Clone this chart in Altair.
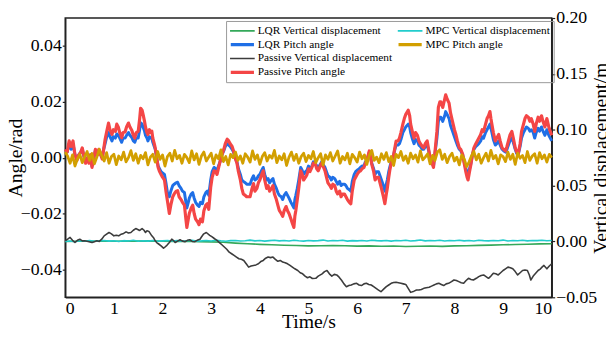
import altair as alt
import numpy as np
import pandas as pd

FONT = "Liberation Serif"
ZW = "\u200b"  # zero-width mark used to keep the two legend domains distinct

# legend order (row by row, two columns); the two blank entries keep the
# second column short, as in the original legend
SERIES = ["LQR Vertical displacement", "MPC Vertical displacement",
          "LQR Pitch angle", "MPC Pitch angle",
          "Passive Vertical displacement", " ",
          "Passive Pitch angle", "  "]
COLORS = ["#34a85a", "#22cccc", "#1f6fe6", "#d29f00", "#3c3c3c", "transparent",
          "#f44646", "transparent"]
THICK = ["LQR Pitch angle", "MPC Pitch angle", "Passive Pitch angle"]

# ---------------- pitch angle data (rad), left axis ----------------
t_pitch = [
    0.00, 0.04, 0.08, 0.12, 0.16, 0.20, 0.24, 0.28, 0.32, 0.35,
    0.39, 0.42, 0.46, 0.49, 0.52, 0.55, 0.59, 0.62, 0.66, 0.69,
    0.73, 0.76, 0.79, 0.82, 0.86, 0.89, 0.92, 0.96, 0.99, 1.03,
    1.06, 1.09, 1.12, 1.16, 1.19, 1.23, 1.26, 1.30, 1.33, 1.37,
    1.40, 1.43, 1.46, 1.50, 1.53, 1.55, 1.58, 1.60, 1.63, 1.65,
    1.68, 1.70, 1.73, 1.76, 1.78, 1.80, 1.83, 1.85, 1.88, 1.91,
    1.94, 1.97, 2.00, 2.04, 2.07, 2.11, 2.14, 2.17, 2.21, 2.24,
    2.28, 2.31, 2.34, 2.38, 2.41, 2.45, 2.48, 2.50, 2.53, 2.55,
    2.59, 2.62, 2.65, 2.68, 2.72, 2.75, 2.78, 2.82, 2.85, 2.89,
    2.92, 2.95, 2.99, 3.02, 3.06, 3.09, 3.12, 3.16, 3.19, 3.22,
    3.26, 3.29, 3.33, 3.36, 3.39, 3.43, 3.46, 3.49, 3.53, 3.56,
    3.60, 3.63, 3.66, 3.70, 3.73, 3.77, 3.80, 3.84, 3.87, 3.90,
    3.94, 3.97, 4.00, 4.04, 4.07, 4.10, 4.14, 4.17, 4.20, 4.24,
    4.27, 4.30, 4.34, 4.37, 4.40, 4.44, 4.47, 4.50, 4.54, 4.57,
    4.60, 4.64, 4.67, 4.70, 4.72, 4.74, 4.77, 4.80, 4.84, 4.87,
    4.90, 4.94, 4.97, 5.00, 5.03, 5.07, 5.10, 5.14, 5.17, 5.20,
    5.24, 5.27, 5.30, 5.34, 5.37, 5.40, 5.44, 5.47, 5.50, 5.54,
    5.57, 5.60, 5.64, 5.67, 5.70, 5.74, 5.77, 5.80, 5.84, 5.87,
    5.90, 5.94, 5.97, 6.00, 6.04, 6.07, 6.10, 6.14, 6.17, 6.20,
    6.25, 6.28, 6.30, 6.34, 6.37, 6.40, 6.44, 6.47, 6.50, 6.54,
    6.57, 6.60, 6.62, 6.65, 6.67, 6.70, 6.74, 6.77, 6.80, 6.84,
    6.87, 6.90, 6.94, 6.97, 7.00, 7.05, 7.08, 7.10, 7.14, 7.17,
    7.20, 7.24, 7.27, 7.30, 7.34, 7.37, 7.40, 7.44, 7.47, 7.50,
    7.54, 7.57, 7.60, 7.64, 7.67, 7.70, 7.72, 7.76, 7.80, 7.82,
    7.85, 7.89, 7.92, 7.96, 8.00, 8.03, 8.06, 8.10, 8.13, 8.17,
    8.20, 8.23, 8.26, 8.28, 8.31, 8.34, 8.37, 8.40, 8.44, 8.47,
    8.50, 8.54, 8.57, 8.60, 8.64, 8.67, 8.70, 8.73, 8.75, 8.77,
    8.80, 8.84, 8.87, 8.91, 8.94, 8.98, 9.01, 9.05, 9.08, 9.11,
    9.14, 9.18, 9.21, 9.25, 9.28, 9.31, 9.35, 9.38, 9.42, 9.45,
    9.48, 9.52, 9.55, 9.58, 9.62, 9.65, 9.68, 9.72, 9.75, 9.79,
    9.82, 9.86, 9.90, 9.94, 9.97, 10.00,
]

passive_pitch = [
    0.003, 0.002, 0.006, 0.004, 0.006, 0.001, -0.001, 0.001, 0.002, 0.0035,
    0.000, -0.002, 0.000, -0.002, 0.001, -0.0035, 0.000, 0.003, 0.001, 0.003,
    0.001, -0.0005, 0.003, 0.0066, 0.010, 0.0124, 0.010, 0.0083, 0.010, 0.0094,
    0.012, 0.011, 0.009, 0.0071, 0.009, 0.0092, 0.011, 0.0124, 0.011, 0.0097,
    0.008, 0.007, 0.009, 0.0094, 0.014, 0.0177, 0.017, 0.0155, 0.013, 0.011,
    0.009, 0.0083, 0.010, 0.009, 0.0095, 0.007, 0.005, 0.0035, 0.000, -0.0035,
    -0.005, -0.006, -0.007, -0.008, -0.012, -0.0165, -0.020, -0.017, -0.014, -0.013,
    -0.012, -0.0118, -0.014, -0.015, -0.016, -0.017, -0.022, -0.025, -0.022, -0.020,
    -0.018, -0.017, -0.020, -0.022, -0.023, -0.024, -0.022, -0.023, -0.019, -0.017,
    -0.0165, -0.0185, -0.0106, -0.007, -0.0047, -0.005, -0.006, -0.003, -0.001, 0.001,
    0.003, 0.005, 0.0066, 0.006, 0.005, 0.004, 0.0024, 0.000, -0.002, -0.005,
    -0.008, -0.011, -0.013, -0.0135, -0.014, -0.014, -0.014, -0.011, -0.0093, -0.012,
    -0.011, -0.009, -0.008, -0.006, -0.0047, -0.008, -0.011, -0.010, -0.012, -0.011,
    -0.010, -0.013, -0.015, -0.017, -0.0189, -0.020, -0.021, -0.019, -0.0175, -0.019,
    -0.020, -0.022, -0.0236, -0.025, -0.021, -0.0189, -0.015, -0.011, -0.0047, -0.006,
    -0.008, -0.007, -0.006, -0.004, -0.005, -0.0035, -0.002, -0.0023, -0.004, -0.0047,
    -0.003, -0.002, -0.003, -0.0047, -0.007, -0.009, -0.010, -0.011, -0.0095, -0.010,
    -0.012, -0.013, -0.012, -0.014, -0.013, -0.013, -0.014, -0.015, -0.016, -0.0165,
    -0.012, -0.008, -0.007, -0.006, -0.005, -0.0047, -0.004, -0.0035, -0.002, -0.001,
    0.0024, 0.000, -0.0023, -0.005, -0.008, -0.007, -0.007, -0.009, -0.011, -0.014,
    -0.0165, -0.013, -0.011, -0.007, -0.0047, -0.002, 0.000, 0.003, 0.0059, 0.006,
    0.007, 0.009, 0.012, 0.014, 0.0155, 0.017, 0.015, 0.012, 0.009, 0.007,
    0.009, 0.008, 0.006, 0.005, 0.004, 0.0035, 0.005, 0.006, 0.003, 0.000,
    -0.002, -0.0035, 0.002, 0.0094, 0.018, 0.020, 0.020, 0.018, 0.021, 0.0225,
    0.021, 0.0195, 0.016, 0.013, 0.010, 0.0083, 0.006, 0.0035, 0.003, 0.0012,
    -0.002, -0.0047, -0.007, -0.008, -0.005, -0.0023, 0.001, 0.0035, 0.005, 0.006,
    0.007, 0.0083, 0.010, 0.0094, 0.012, 0.014, 0.015, 0.0165, 0.014, 0.012,
    0.009, 0.006, 0.007, 0.0083, 0.006, 0.0035, 0.003, 0.0024, 0.004, 0.006,
    0.008, 0.0094, 0.007, 0.0035, 0.002, 0.0012, 0.005, 0.0094, 0.012, 0.014,
    0.015, 0.0145, 0.013, 0.014, 0.012, 0.0094, 0.012, 0.0145, 0.013, 0.015,
    0.013, 0.011, 0.014, 0.011, 0.0094, 0.008,
]

lqr_pitch = [
    0.002, 0.002, 0.005, 0.003, 0.005, 0.001, 0.000, 0.001, 0.002, 0.003,
    0.000, -0.001, 0.000, -0.0015, 0.001, -0.003, 0.000, 0.0025, 0.001, 0.0025,
    0.001, 0.000, 0.003, 0.005, 0.008, 0.009, 0.0075, 0.006, 0.0075, 0.007,
    0.0085, 0.008, 0.007, 0.0055, 0.007, 0.007, 0.008, 0.009, 0.008, 0.0072,
    0.006, 0.0055, 0.007, 0.007, 0.010, 0.0125, 0.012, 0.011, 0.0095, 0.008,
    0.007, 0.006, 0.0075, 0.007, 0.007, 0.0055, 0.004, 0.003, 0.000, -0.003,
    -0.004, -0.005, -0.0055, -0.006, -0.009, -0.0135, -0.014, -0.012, -0.010, -0.0095,
    -0.009, -0.0088, -0.010, -0.011, -0.012, -0.0125, -0.016, -0.018, -0.016, -0.0145,
    -0.013, -0.0125, -0.0145, -0.016, -0.017, -0.0175, -0.016, -0.0165, -0.014, -0.0125,
    -0.012, -0.0135, -0.008, -0.005, -0.0035, -0.004, -0.0045, -0.0025, -0.001, 0.001,
    0.0025, 0.004, 0.005, 0.0045, 0.004, 0.003, 0.002, 0.000, -0.0015, -0.004,
    -0.006, -0.008, -0.0085, -0.009, -0.0095, -0.0095, -0.0095, -0.0075, -0.0065, -0.008,
    -0.0075, -0.0065, -0.006, -0.0045, -0.0035, -0.006, -0.008, -0.0075, -0.009, -0.008,
    -0.0075, -0.0095, -0.011, -0.0125, -0.0135, -0.014, -0.015, -0.0135, -0.0125, -0.0135,
    -0.0145, -0.016, -0.017, -0.018, -0.015, -0.0135, -0.011, -0.008, -0.0035, -0.0045,
    -0.006, -0.005, -0.0045, -0.003, -0.004, -0.003, -0.0015, -0.002, -0.003, -0.0035,
    -0.0025, -0.0015, -0.0025, -0.0035, -0.005, -0.0065, -0.007, -0.008, -0.007, -0.0075,
    -0.0085, -0.0095, -0.0085, -0.010, -0.0095, -0.0095, -0.010, -0.011, -0.0115, -0.012,
    -0.0085, -0.006, -0.005, -0.0045, -0.004, -0.0035, -0.003, -0.003, -0.0015, -0.001,
    0.002, 0.000, -0.002, -0.004, -0.006, -0.005, -0.005, -0.0065, -0.008, -0.010,
    -0.012, -0.0095, -0.008, -0.005, -0.0035, -0.0015, 0.000, 0.0025, 0.0045, 0.0045,
    0.005, 0.0065, 0.009, 0.010, 0.011, 0.012, 0.011, 0.009, 0.0065, 0.005,
    0.0065, 0.006, 0.0045, 0.004, 0.003, 0.003, 0.004, 0.0045, 0.0025, 0.000,
    -0.0015, -0.003, 0.0015, 0.007, 0.013, 0.0145, 0.0145, 0.013, 0.015, 0.0165,
    0.0155, 0.014, 0.0115, 0.0095, 0.0075, 0.006, 0.0045, 0.003, 0.0025, 0.001,
    -0.0015, -0.0035, -0.0055, -0.006, -0.004, -0.002, 0.001, 0.003, 0.004, 0.0045,
    0.005, 0.006, 0.0075, 0.007, 0.009, 0.010, 0.011, 0.012, 0.0105, 0.009,
    0.0065, 0.0045, 0.005, 0.006, 0.0045, 0.003, 0.0025, 0.002, 0.003, 0.0045,
    0.006, 0.007, 0.0055, 0.003, 0.0015, 0.001, 0.004, 0.007, 0.009, 0.010,
    0.011, 0.0105, 0.0095, 0.010, 0.009, 0.007, 0.009, 0.0105, 0.0095, 0.011,
    0.0095, 0.008, 0.010, 0.008, 0.007, 0.006,
]

# MPC pitch angle, sampled every 0.05 s
mpc_pitch = [
    0.0020, 0.0005, -0.0020, 0.0010, -0.0030, -0.0005, 0.0012, -0.0018, 0.0003, 0.0022,
    -0.0010, 0.0015, -0.0022, 0.0002, 0.0030, 0.0008, -0.0012, 0.0018, -0.0020, 0.0004,
    0.0012, -0.0025, 0.0006, -0.0008, 0.0020, -0.0015, 0.0000, 0.0025, -0.0010, 0.0014,
    -0.0020, 0.0008, -0.0004, 0.0018, -0.0026, 0.0002, 0.0012, -0.0016, 0.0022, -0.0006,
    0.0010, -0.0030, 0.0004, 0.0016, -0.0012, 0.0026, -0.0004, 0.0008, -0.0020, 0.0012,
    0.0000, -0.0018, 0.0024, -0.0008, 0.0014, -0.0024, 0.0006, 0.0020, -0.0012, 0.0002,
    0.0016, -0.0022, 0.0010, -0.0004, 0.0028, -0.0014, 0.0004, -0.0026, 0.0012, 0.0000,
    0.0020, -0.0010, 0.0006, -0.0020, 0.0014, 0.0002, -0.0016, 0.0024, -0.0006, 0.0010,
    -0.0024, 0.0004, 0.0018, -0.0012, 0.0008, -0.0002, 0.0026, -0.0018, 0.0006, -0.0008,
    0.0014, -0.0028, 0.0002, 0.0020, -0.0010, 0.0012, -0.0020, 0.0004, 0.0016, -0.0014,
    0.0008, -0.0004, 0.0022, -0.0018, 0.0000, 0.0014, -0.0026, 0.0010, -0.0006, 0.0018,
    -0.0012, 0.0006, 0.0024, -0.0020, 0.0004, -0.0008, 0.0016, -0.0022, 0.0012, 0.0000,
    -0.0016, 0.0020, -0.0004, 0.0010, -0.0024, 0.0008, 0.0026, -0.0010, 0.0002, -0.0018,
    0.0014, -0.0006, 0.0018, -0.0014, 0.0004, -0.0028, 0.0012, 0.0000, 0.0022, -0.0010,
    0.0006, -0.0020, 0.0016, -0.0004, 0.0010, -0.0016, 0.0024, -0.0008, 0.0002, 0.0014,
    -0.0022, 0.0008, -0.0010, 0.0020, 0.0028, -0.0006, 0.0012, -0.0018, 0.0004, 0.0016,
    -0.0012, 0.0002, -0.0026, 0.0010, -0.0004, -0.0032, -0.0016, 0.0006, 0.0022, -0.0008,
    0.0012, -0.0020, 0.0000, 0.0016, -0.0012, 0.0026, -0.0004, 0.0008, -0.0022, 0.0010,
    0.0004, -0.0014, 0.0020, -0.0006, 0.0012, -0.0024, 0.0016, -0.0002, 0.0008, -0.0018,
    0.0022, -0.0010, 0.0006, 0.0014, -0.0020, 0.0018, -0.0004, 0.0010, -0.0016, 0.0012,
    0.0000,
]

# ---------------- vertical displacement data (m), right axis ----------------
t_passive_vert = [
    0.00, 0.05, 0.10, 0.15, 0.20, 0.25, 0.30, 0.35, 0.40, 0.47,
    0.55, 0.60, 0.65, 0.70, 0.75, 0.80, 0.85, 0.90, 0.95, 1.00,
    1.05, 1.10, 1.15, 1.20, 1.25, 1.30, 1.35, 1.40, 1.45, 1.50,
    1.52, 1.55, 1.58, 1.62, 1.65, 1.68, 1.72, 1.75, 1.78, 1.82,
    1.85, 1.88, 1.92, 1.97, 2.02, 2.05, 2.09, 2.14, 2.19, 2.22,
    2.26, 2.30, 2.36, 2.40, 2.46, 2.51, 2.56, 2.61, 2.66, 2.71,
    2.77, 2.80, 2.84, 2.90, 2.97, 3.02, 3.07, 3.12, 3.17, 3.22,
    3.27, 3.32, 3.37, 3.42, 3.47, 3.52, 3.57, 3.62, 3.67, 3.72,
    3.77, 3.82, 3.87, 3.92, 3.97, 4.02, 4.07, 4.12, 4.17, 4.22,
    4.27, 4.32, 4.37, 4.42, 4.47, 4.52, 4.57, 4.62, 4.67, 4.72,
    4.78, 4.83, 4.88, 4.93, 4.98, 5.03, 5.08, 5.15, 5.20, 5.28,
    5.33, 5.38, 5.43, 5.48, 5.53, 5.58, 5.63, 5.68, 5.73, 5.78,
    5.83, 5.88, 5.93, 5.99, 6.04, 6.09, 6.14, 6.19, 6.24, 6.29,
    6.34, 6.39, 6.44, 6.49, 6.55, 6.60, 6.65, 6.70, 6.75, 6.80,
    6.85, 6.90, 6.95, 7.00, 7.05, 7.10, 7.17, 7.22, 7.27, 7.32,
    7.37, 7.42, 7.48, 7.53, 7.58, 7.63, 7.68, 7.73, 7.78, 7.83,
    7.88, 7.94, 7.99, 8.04, 8.09, 8.14, 8.19, 8.24, 8.29, 8.34,
    8.39, 8.45, 8.50, 8.55, 8.60, 8.65, 8.70, 8.75, 8.80, 8.85,
    8.90, 8.95, 9.00, 9.05, 9.10, 9.15, 9.20, 9.25, 9.30, 9.35,
    9.40, 9.45, 9.50, 9.54, 9.57, 9.62, 9.67, 9.72, 9.77, 9.80,
    9.84, 9.90, 9.95, 10.00,
]

passive_vert = [
    0.0006, 0.0020, 0.0036, 0.0010, -0.0008, 0.0010, 0.0020, 0.0005, 0.0006, 0.0000,
    -0.0010, -0.0002, 0.0006, 0.0000, 0.0020, 0.0050, 0.0065, 0.0080, 0.0068, 0.0050,
    0.0055, 0.0050, 0.0065, 0.0072, 0.0086, 0.0075, 0.0080, 0.0100, 0.0115, 0.0105,
    0.0098, 0.0105, 0.0115, 0.0100, 0.0080, 0.0095, 0.0090, 0.0070, 0.0050, 0.0030,
    0.0006, -0.0010, -0.0023, -0.0040, -0.0060, -0.0050, -0.0035, -0.0010, 0.0020, 0.0010,
    -0.0010, 0.0000, 0.0015, 0.0005, -0.0003, 0.0010, 0.0015, 0.0000, -0.0003, 0.0010,
    0.0020, 0.0040, 0.0065, 0.0080, 0.0055, 0.0040, 0.0024, 0.0010, -0.0010, -0.0030,
    -0.0050, -0.0070, -0.0096, -0.0110, -0.0125, -0.0140, -0.0155, -0.0160, -0.0170, -0.0200,
    -0.0230, -0.0220, -0.0215, -0.0210, -0.0200, -0.0180, -0.0170, -0.0150, -0.0140, -0.0145,
    -0.0140, -0.0160, -0.0178, -0.0170, -0.0185, -0.0190, -0.0200, -0.0215, -0.0230, -0.0245,
    -0.0260, -0.0280, -0.0290, -0.0310, -0.0325, -0.0317, -0.0332, -0.0330, -0.0310, -0.0290,
    -0.0270, -0.0260, -0.0290, -0.0310, -0.0295, -0.0300, -0.0320, -0.0347, -0.0380, -0.0405,
    -0.0395, -0.0390, -0.0380, -0.0375, -0.0390, -0.0395, -0.0380, -0.0375, -0.0385, -0.0390,
    -0.0405, -0.0420, -0.0435, -0.0450, -0.0425, -0.0405, -0.0390, -0.0375, -0.0368, -0.0365,
    -0.0370, -0.0375, -0.0380, -0.0385, -0.0420, -0.0456, -0.0445, -0.0435, -0.0435, -0.0430,
    -0.0420, -0.0415, -0.0410, -0.0400, -0.0390, -0.0380, -0.0375, -0.0385, -0.0395, -0.0380,
    -0.0375, -0.0360, -0.0345, -0.0350, -0.0360, -0.0370, -0.0375, -0.0350, -0.0330, -0.0340,
    -0.0345, -0.0330, -0.0315, -0.0305, -0.0300, -0.0315, -0.0330, -0.0310, -0.0285, -0.0290,
    -0.0300, -0.0280, -0.0260, -0.0245, -0.0230, -0.0235, -0.0245, -0.0270, -0.0300, -0.0280,
    -0.0260, -0.0255, -0.0260, -0.0300, -0.0345, -0.0310, -0.0285, -0.0260, -0.0245, -0.0230,
    -0.0215, -0.0245, -0.0220, -0.0200,
]

# LQR vertical displacement, sampled every 0.25 s
lqr_vert = [
    0.0000, 0.0002, 0.0001, 0.0003, 0.0002, 0.0004, 0.0003, 0.0005, 0.0002, 0.0000,
    0.0001, -0.0002, -0.0004, -0.0008, -0.0015, -0.0020, -0.0026, -0.0030, -0.0034, -0.0037,
    -0.0040, -0.0038, -0.0036, -0.0039, -0.0042, -0.0040, -0.0043, -0.0041, -0.0045, -0.0043,
    -0.0041, -0.0044, -0.0040, -0.0038, -0.0035, -0.0033, -0.0030, -0.0028, -0.0025, -0.0022,
    -0.0020,
]

# MPC vertical displacement, sampled every 0.1 s
mpc_vert = [
    0.0000, 0.0004, -0.0002, 0.0006, 0.0002, 0.0008, 0.0001, 0.0005, 0.0009, 0.0003,
    0.0006, 0.0000, 0.0007, 0.0004, 0.0010, 0.0002, 0.0006, 0.0003, 0.0008, 0.0001,
    0.0005, 0.0009, 0.0004, 0.0007, 0.0002, 0.0006, 0.0010, 0.0003, 0.0005, 0.0008,
    0.0004, 0.0011, 0.0006, 0.0002, 0.0007, 0.0009, 0.0004, 0.0006, 0.0012, 0.0005,
    0.0008, 0.0003, 0.0007, 0.0010, 0.0005, 0.0008, 0.0004, 0.0011, 0.0006, 0.0003,
    0.0009, 0.0005, 0.0007, 0.0012, 0.0004, 0.0008, 0.0006, 0.0010, 0.0003, 0.0007,
    0.0005, 0.0009, 0.0004, 0.0011, 0.0007, 0.0005, 0.0009, 0.0003, 0.0008, 0.0006,
    0.0010, 0.0004, 0.0007, 0.0013, 0.0005, 0.0008, 0.0006, 0.0010, 0.0004, 0.0009,
    0.0006, 0.0011, 0.0005, 0.0008, 0.0004, 0.0010, 0.0007, 0.0005, 0.0009, 0.0006,
    0.0012, 0.0004, 0.0008, 0.0006, 0.0010, 0.0005, 0.0009, 0.0007, 0.0011, 0.0006, 0.0008,
]

x_ticks = list(range(11))
left_ticks = [-0.04, -0.02, 0.0, 0.02, 0.04]
right_ticks = [-0.05, 0.0, 0.05, 0.10, 0.15, 0.20]

# two color scales (one per axis group) laid out as one legend:
# the thick-line legend draws only the pitch entries, the thin one the rest
THICK_DOMAIN = [s if s in THICK else s + ZW for s in SERIES]
THICK_RANGE = [c if s in THICK else "transparent" for s, c in zip(SERIES, COLORS)]
THIN_DOMAIN = [s + ZW if s in THICK else s for s in SERIES]
THIN_RANGE = ["transparent" if s in THICK else c for s, c in zip(SERIES, COLORS)]


def frame(t, v, name):
    n = min(len(t), len(v))
    return pd.DataFrame({"t": list(t)[:n], "v": list(v)[:n], "series": name})


def even_t(v):
    return np.linspace(0, 10, len(v))


LEG_COMMON = dict(
    title=None, orient="none", legendX=163, legendY=3, columns=2, direction="horizontal",
    symbolType="stroke", labelFont=FONT, labelFontSize=11.5, labelLimit=400,
    padding=3, rowPadding=0, columnPadding=4, labelOffset=2, clipHeight=14,
)
legend_thin = alt.Legend(symbolSize=625, symbolStrokeWidth=1.6, labelColor="black",
                         strokeColor="#999999", **LEG_COMMON)
legend_thick = alt.Legend(symbolSize=552, symbolStrokeWidth=3.2, labelColor="transparent",
                          **LEG_COMMON)

x_enc = alt.X("t:Q", scale=alt.Scale(domain=[0, 10], nice=False),
              axis=alt.Axis(title="Time/s", values=x_ticks, format="d", ticks=False,
                            labelPadding=2, titleY=31, titleBaseline="alphabetic",
                            grid=False))
color_thick = alt.Color("series:N", scale=alt.Scale(domain=THICK_DOMAIN, range=THICK_RANGE),
                        legend=legend_thick)
color_thin = alt.Color("series:N", scale=alt.Scale(domain=THIN_DOMAIN, range=THIN_RANGE),
                       legend=legend_thin)

y_left = alt.Y("v:Q", scale=alt.Scale(domain=[-0.05, 0.05], nice=False, zero=False),
               axis=alt.Axis(title="Angle/rad", values=left_ticks, format=".2f", orient="left",
                             tickSize=3, labelPadding=1, titleX=-44, titleAngle=270,
                             titleBaseline="alphabetic", grid=False))
y_right = alt.Y("v:Q", scale=alt.Scale(domain=[-0.05, 0.20], nice=False, zero=False),
                axis=alt.Axis(title="Vertical displacement/m", values=right_ticks, format=".2f",
                              orient="right", tickSize=3, labelPadding=1, titleX=56,
                              titleAngle=270, titleBaseline="alphabetic", grid=False))


def line(df, y, width, color):
    return alt.Chart(df).mark_line(strokeJoin="round", strokeWidth=width).encode(
        x=x_enc, y=y, color=color)


right = alt.layer(
    line(frame(even_t(lqr_vert), lqr_vert, "LQR Vertical displacement"), y_right, 1.6, color_thin),
    line(frame(even_t(mpc_vert), mpc_vert, "MPC Vertical displacement"), y_right, 1.6, color_thin),
    line(frame(t_passive_vert, passive_vert, "Passive Vertical displacement"), y_right, 1.6, color_thin),
)
left = alt.layer(
    line(frame(t_pitch, lqr_pitch, "LQR Pitch angle"), y_left, 3.0, color_thick),
    line(frame(t_pitch, passive_pitch, "Passive Pitch angle"), y_left, 3.2, color_thick),
    line(frame(even_t(mpc_pitch), mpc_pitch, "MPC Pitch angle"), y_left, 2.8, color_thick),
)

chart = alt.layer(left, right).resolve_scale(y="independent", color="independent").properties(
    width=493, height=283,
    autosize=alt.AutoSizeParams(type="none"),
    padding={"left": 58, "top": 8, "right": 55, "bottom": 32},
).configure_view(
    stroke="#222222", strokeWidth=1.5
).configure_axis(
    labelFont=FONT, labelFontSize=18, labelColor="black",
    titleFont=FONT, titleFontSize=20, titleFontWeight="normal", titleColor="black",
    domainColor="#222222", domainWidth=1.5, tickColor="#222222", tickWidth=1.2,
)

chart.save("out.html", embed_options={"renderer": "svg", "actions": False})
